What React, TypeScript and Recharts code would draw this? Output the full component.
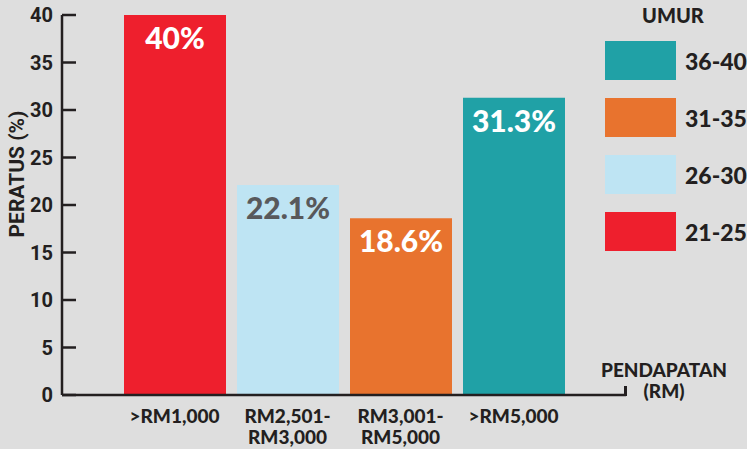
import { BarChart, Bar, XAxis, YAxis, Cell, LabelList } from 'recharts';

const INCOME_LINES = [['>RM1,000'], ['RM2,501-', 'RM3,000'], ['RM3,001-', 'RM5,000'], ['>RM5,000']];
const PERCENT = [40, 22.1, 18.6, 31.3];
const PERCENT_TEXT = ['40%', '22.1%', '18.6%', '31.3%'];
const AGE_GROUPS = ['21-25', '26-30', '31-35', '36-40'];
const BAR_COLORS = ['#ee1f2d', '#bee4f3', '#e8732e', '#20a1a6'];
const LABEL_COLORS = ['#ffffff', '#58595b', '#ffffff', '#ffffff'];
const Y_TICKS = [0, 5, 10, 15, 20, 25, 30, 35, 40];

const INK = '#231f20';
const GEO = 'Lato, "Open Sans", sans-serif';
const COND = 'Roboto, "Liberation Sans", sans-serif';
const Y_MARGIN = 9;

const data = INCOME_LINES.map((lines, i) => ({
  cat: lines.join(' '),
  lines,
  value: PERCENT[i],
  text: PERCENT_TEXT[i],
}));

function YTick(props: any) {
  const { x, y, payload } = props;
  return (
    <g>
      <line x1={x + Y_MARGIN} x2={x + Y_MARGIN + 14} y1={y} y2={y} stroke={INK} strokeWidth={2.5} />
      <text x={x} y={y + 7} textAnchor="end" fontFamily={COND} fontWeight={700} fontSize={20} fill={INK}>
        {payload.value}
      </text>
    </g>
  );
}

function XTick(props: any) {
  const { x, y, index } = props;
  const lines = INCOME_LINES[index] || [];
  return (
    <g>
      {lines.map((l, i) => (
        <text key={i} x={x} y={y + 28 + i * 21} textAnchor="middle" fontFamily={GEO} fontWeight={900} fontSize={19} fill={INK}>
          {l}
        </text>
      ))}
    </g>
  );
}

function BarText(props: any) {
  const { x, y, width, value } = props;
  const i = props.index ?? PERCENT.indexOf(value);
  return (
    <text x={x + width / 2} y={y + 34} textAnchor="middle" fontFamily={GEO} fontWeight={900} fontSize={30} fill={LABEL_COLORS[i]}>
      {PERCENT_TEXT[i]}
    </text>
  );
}

export default function App() {
  const legendItems = [...AGE_GROUPS].map((a, i) => ({ a, c: BAR_COLORS[i] })).reverse();
  const titleStyle = {
    position: 'absolute' as const, left: 664, transform: 'translateX(-50%)',
    fontFamily: GEO, fontWeight: 900, fontSize: 19, color: INK, lineHeight: '19px', whiteSpace: 'nowrap' as const,
  };
  return (
    <div style={{ position: 'absolute', left: 0, top: 0, width: 747, height: 449, background: '#dedede', overflow: 'hidden' }}>
      <BarChart width={747} height={449} data={data} margin={{ top: 15, right: 121, left: 0, bottom: 0 }}>
        <YAxis
          width={62}
          domain={[0, 40]}
          ticks={Y_TICKS}
          interval={0}
          tickSize={0}
          tickMargin={Y_MARGIN}
          tick={<YTick />}
          axisLine={{ stroke: INK, strokeWidth: 2.5 }}
          tickLine={false}
        />
        <XAxis
          dataKey="cat"
          height={54}
          padding={{ left: 56, right: 56 }}
          tickSize={0}
          tickMargin={0}
          tick={<XTick />}
          interval={0}
          axisLine={{ stroke: INK, strokeWidth: 2.5 }}
          tickLine={false}
        />
        <Bar dataKey="value" barSize={102} isAnimationActive={false}>
          {data.map((_d, i) => (
            <Cell key={`cell-${i}`} fill={BAR_COLORS[i]} />
          ))}
          <LabelList dataKey="value" content={<BarText />} />
        </Bar>
      </BarChart>

      {/* axis titles */}
      <div
        style={{
          position: 'absolute', left: 17, top: 174, transform: 'translate(-50%, -50%) rotate(-90deg)',
          fontFamily: COND, fontWeight: 700, fontSize: 21, color: INK, whiteSpace: 'nowrap', lineHeight: 1,
        }}
      >
        PERATUS (%)
      </div>
      <div style={{ position: 'absolute', left: 624, top: 386, width: 2.5, height: 10, background: INK }} />
      <div style={{ ...titleStyle, top: 360 }}>PENDAPATAN</div>
      <div style={{ ...titleStyle, top: 381 }}>(RM)</div>

      {/* legend */}
      <div style={{ position: 'absolute', left: 642, top: 3, fontFamily: GEO, fontWeight: 900, fontSize: 20, color: INK, lineHeight: '24px' }}>
        UMUR
      </div>
      {legendItems.map((it, i) => (
        <div key={it.a} style={{ position: 'absolute', left: 605, top: 41 + i * 57, display: 'flex', alignItems: 'center' }}>
          <div style={{ width: 71, height: 39, background: it.c }} />
          <span style={{ marginLeft: 9, fontFamily: GEO, fontWeight: 900, fontSize: 23, color: INK }}>{it.a}</span>
        </div>
      ))}
    </div>
  );
}
